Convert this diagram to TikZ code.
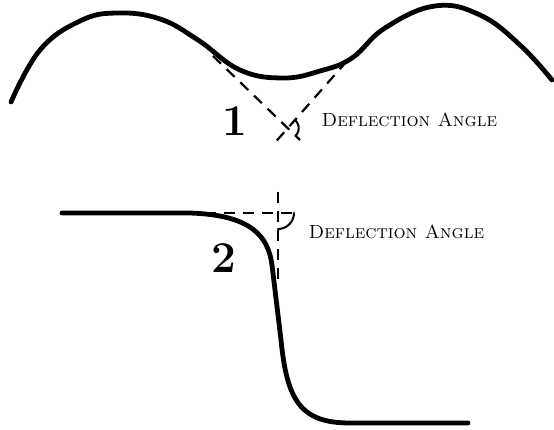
\documentclass[tikz,border=0pt]{standalone}
\begin{document}
\begin{tikzpicture}[x=1pt,y=-1pt,
  curve/.style={line width=4.8pt, line cap=round, line join=round},
  guide/.style={line width=2.2pt, dash pattern=on 11pt off 8pt},
  marker/.style={line width=2pt, line cap=round},
  num/.style={font=\fontsize{44}{44}\selectfont\bfseries},
  lbl/.style={font=\fontsize{19}{19}\selectfont\scshape, anchor=west}]
  \useasboundingbox (0,0) rectangle (554,430);
  % Courbe 1
  \draw[curve] plot[smooth, tension=0.7] coordinates {(11,102) (40,50) (80,21)
    (117,13) (160,19) (198,40) (240,70) (283,78) (320,71) (352,58) (385,28)
    (435,6) (480,15) (520,45) (552,80)};
  \coordinate (tanL) at (213,56);
  \coordinate (endL) at (300,140);
  \coordinate (tanR) at (347,61);
  \coordinate (endR) at (272,146);
  \coordinate (cross1) at (287.7,128.2);
  \draw[guide] (tanL) -- (endL);
  \draw[guide] (tanR) -- (endR);
  \draw[marker] (cross1) ++(-48.6:11) arc[start angle=-48.6, end angle=44, radius=11];
  \node[num] (one) at (235,121) {1};
  \node[lbl] (angle1) at (318,120) {Deflection Angle};
  % Courbe 2
  \draw[curve] (62,213) -- (190,213) .. controls (250,215) and (268,235) .. (272,265)
    -- (281,340) .. controls (287,400) and (300,423) .. (350,423) -- (468,423);
  \coordinate (flatL) at (205,213);
  \coordinate (flatR) at (298,213);
  \coordinate (vertT) at (278,192);
  \coordinate (vertB) at (278,286);
  \coordinate (cross2) at (278,213);
  \draw[guide] (flatL) -- (flatR);
  \draw[guide] (vertT) -- (vertB);
  \draw[marker] (cross2) ++(0:16) arc[start angle=0, end angle=90, radius=16];
  \node[num] (two) at (224,258) {2};
  \node[lbl] (angle2) at (305,232) {Deflection Angle};
\end{tikzpicture}
\end{document}
